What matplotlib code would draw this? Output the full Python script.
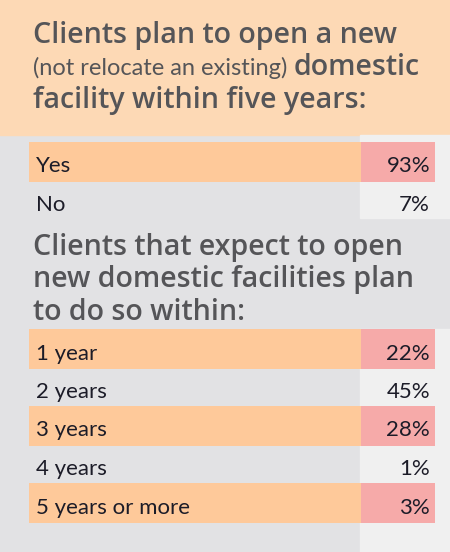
import matplotlib.pyplot as plt

# survey answers
q1_labels = ["Yes", "No"]
q1_values = [93, 7]
q2_labels = ["1 year", "2 years", "3 years", "4 years", "5 years or more"]
q2_values = [22, 45, 28, 1, 3]

title_1a = "Clients plan to open a new"
title_1b_small = "(not relocate an existing) "
title_1b = "domestic"
title_1c = "facility within five years:"
title_2 = ["Clients that expect to open", "new domestic facilities plan", "to do so within:"]

PEACH = "#fdd9b5"
ORANGE = "#fec99a"
PINK = "#f6aaa9"
GREY = "#e2e2e4"
LIGHT = "#f0f0f0"
TITLE_C = "#555558"
TEXT_C = "#1c1c28"

W, H = 450, 552
TFONT = "Open Sans"
FONT = "Lato"

fig = plt.figure(figsize=(W / 100, H / 100), dpi=100)
ax = fig.add_axes([0, 0, 1, 1])
ax.set_xlim(0, W)
ax.set_ylim(H, 0)
ax.axis("off")

# background blocks
ax.add_patch(plt.Rectangle((0, 0), W, H, color=GREY, zorder=0))
ax.add_patch(plt.Rectangle((0, 0), W, 135, color=PEACH, zorder=1))
ax.add_patch(plt.Rectangle((360, 135), W - 360, 83, color=LIGHT, zorder=1))
ax.add_patch(plt.Rectangle((360, 329), W - 360, H - 329, color=LIGHT, zorder=1))

tkw = dict(family=TFONT, weight="semibold", color=TITLE_C, fontsize=20.6, va="baseline")
ax.text(33, 43, title_1a, **tkw)
t = ax.text(33, 75, title_1b_small, family=FONT, color=TITLE_C, fontsize=17, va="baseline")
fig.canvas.draw()
bb = t.get_window_extent()
x_dom = bb.x1 * W / fig.bbox.width
ax.text(x_dom, 75, title_1b, **tkw)
ax.text(33, 108, title_1c, **tkw)
for i, line in enumerate(title_2):
    ax.text(33, 255 + i * 32.5, line, **tkw)


def draw_rows(labels, values, top, pitch):
    centers = [top + 20 + i * pitch for i in range(len(labels))]
    for i, (lab, val, yc) in enumerate(zip(labels, values, centers)):
        if i % 2 == 0:
            ax.barh(yc, 332, left=29, height=40, color=ORANGE, zorder=2)
            ax.barh(yc, 74, left=361, height=40, color=PINK, zorder=2)
        ax.text(36, yc + 10.5, lab, family=FONT, fontsize=16, color=TEXT_C,
                va="baseline", zorder=3)
        ax.text(430, yc + 10.5, f"{val}%", family=FONT, fontsize=16, color=TEXT_C,
                va="baseline", ha="right", zorder=3)


draw_rows(q1_labels, q1_values, 142, 38.5)
draw_rows(q2_labels, q2_values, 329, 38.5)

fig.savefig("out.png", dpi=100)
